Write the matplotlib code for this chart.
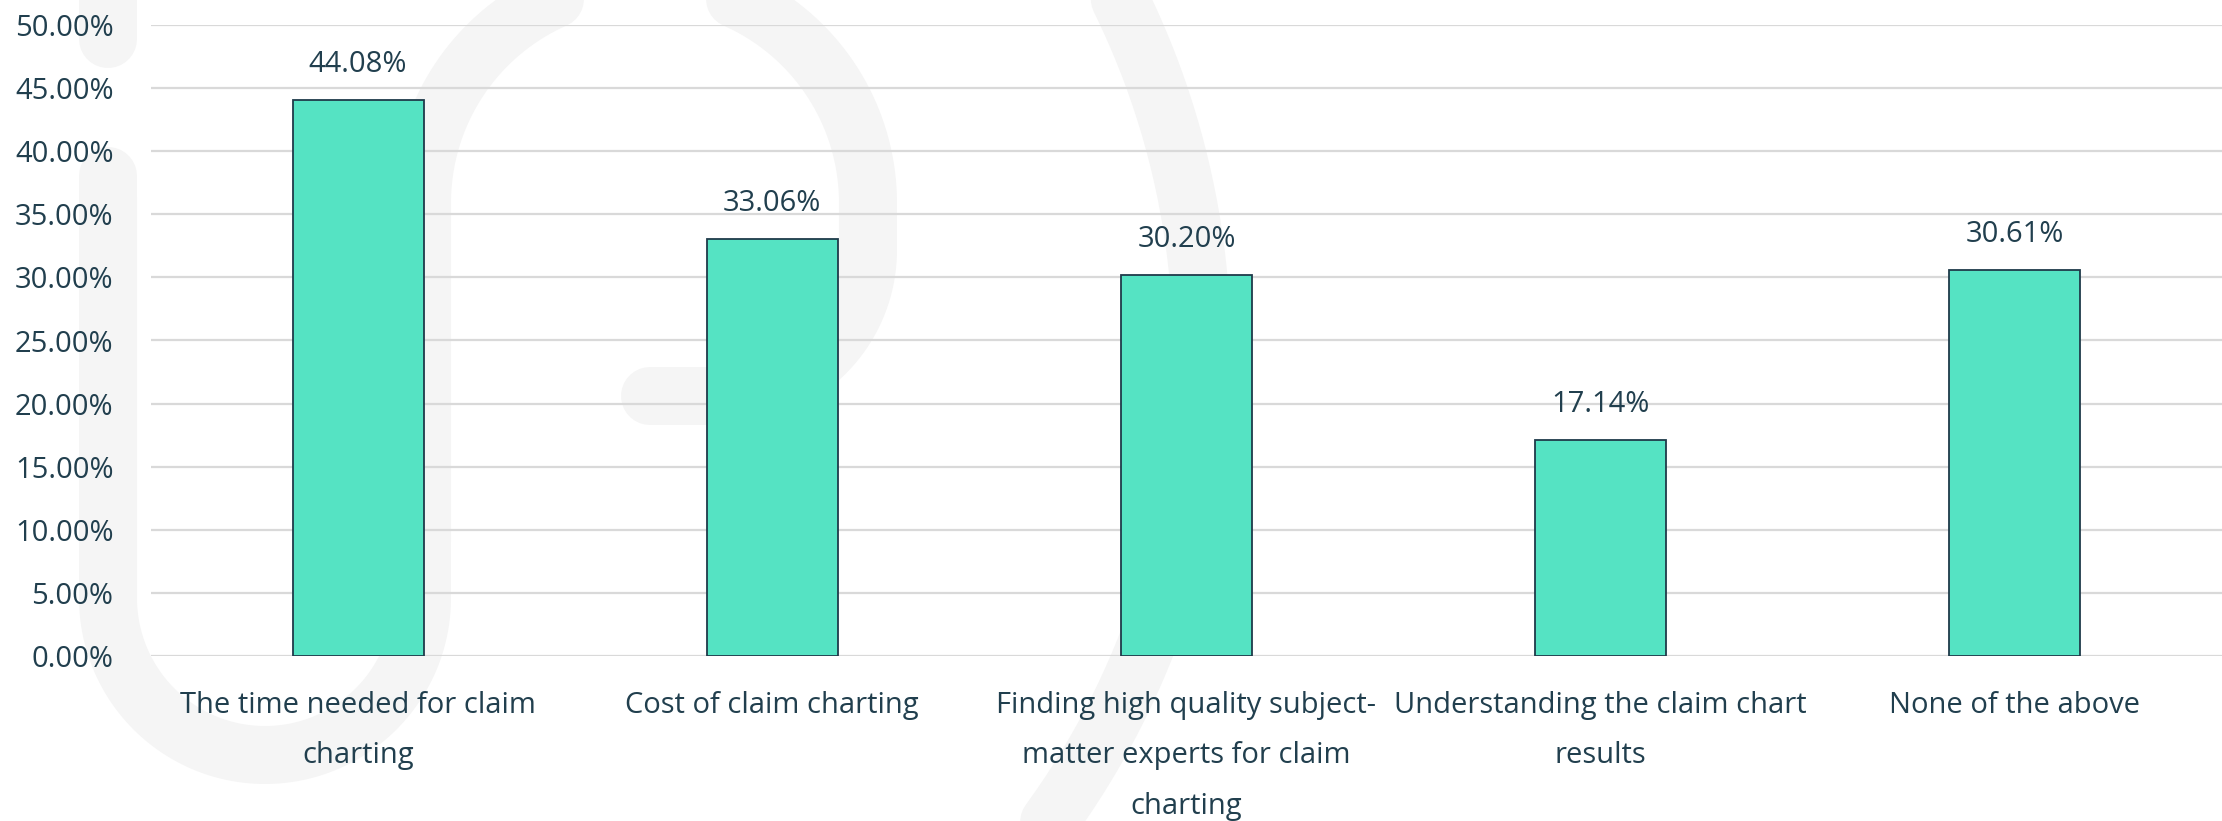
import numpy as np
import matplotlib
matplotlib.use("Agg")
import matplotlib.pyplot as plt
from matplotlib.ticker import PercentFormatter

# ---- data ----
categories = [
    "The time needed for claim\ncharting",
    "Cost of claim charting",
    "Finding high quality subject-\nmatter experts for claim\ncharting",
    "Understanding the claim chart\nresults",
    "None of the above",
]
values = [44.08, 33.06, 30.20, 17.14, 30.61]
yticks = [0, 5, 10, 15, 20, 25, 30, 35, 40, 45, 50]

TEXT = "#213f4e"
BAR = "#55e3c3"
EDGE = "#1f3a4a"
GRID = "#d9d9d9"
WM = "#f5f5f5"

plt.rcParams['font.family'] = ['Open Sans', 'DejaVu Sans']

W, H = 2222, 821
fig = plt.figure(figsize=(W / 100, H / 100), dpi=100)
fig.patch.set_facecolor("white")

# ---- background watermark (decorative) ----
bg = fig.add_axes([0, 0, 1, 1], zorder=0)
bg.set_xlim(0, W)
bg.set_ylim(H, 0)
bg.axis("off")
band = 58 * 72 / 100  # px -> pt


def arc(cx, cy, r, t0, t1, n=200):
    t = np.linspace(t0, t1, n)
    return cx + r * np.cos(t), cy + r * np.sin(t)


kw = dict(color=WM, lw=band, solid_capstyle="round", solid_joinstyle="round")
# left top piece
bg.plot([108, 108], [-60, 39], **kw)
# main loop path
xs, ys = [108], [176]
ax_, ay_ = arc(265, 598, 157, np.pi, 0)
xs += [108] + list(ax_); ys += [598] + list(ay_)
xs += [422]; ys += [203]
tx, ty = arc(645, 203, 223, np.pi, 2 * np.pi)
xs += list(tx); ys += list(ty)
xs += [868]; ys += [250]
qx, qy = arc(722, 250, 146, 0, np.pi / 2)
xs += list(qx); ys += list(qy)
xs += [650]; ys += [396]
bg.plot(xs, ys, **kw)
# big right arc
bx, by = arc(403, 352, 799, np.radians(-70), np.radians(45))
bg.plot(bx, by, **kw)

# ---- main chart ----
left = 151 / W
bottom = 1 - 656 / H
ax = fig.add_axes([left, bottom, 1 - left, 631 / H], zorder=1)
ax.patch.set_alpha(0)

x = np.arange(len(categories))
bars = ax.bar(x, values, width=0.316, color=BAR, edgecolor=EDGE, linewidth=1.3, zorder=3)

ax.set_xlim(-0.5, len(categories) - 0.5)
ax.set_ylim(0, 50)
ax.set_yticks(yticks)
ax.yaxis.set_major_formatter(PercentFormatter(xmax=100, decimals=2))
ax.grid(axis="y", color=GRID, linewidth=1.6, zorder=0)
ax.set_axisbelow(True)
for s in ax.spines.values():
    s.set_visible(False)

ax.tick_params(axis="y", length=0, pad=27, labelsize=21, labelcolor=TEXT)
ax.tick_params(axis="x", length=0, pad=25, labelsize=21, labelcolor=TEXT)
ax.set_xticks(x)
ax.set_xticklabels(categories, linespacing=1.98)

for xi, v in zip(x, values):
    ax.annotate(f"{v:.2f}%", (xi, v), xytext=(0, 20), textcoords="offset points",
                ha="center", va="baseline", fontsize=21, color=TEXT)

fig.savefig("out.png", dpi=100, facecolor="white")
